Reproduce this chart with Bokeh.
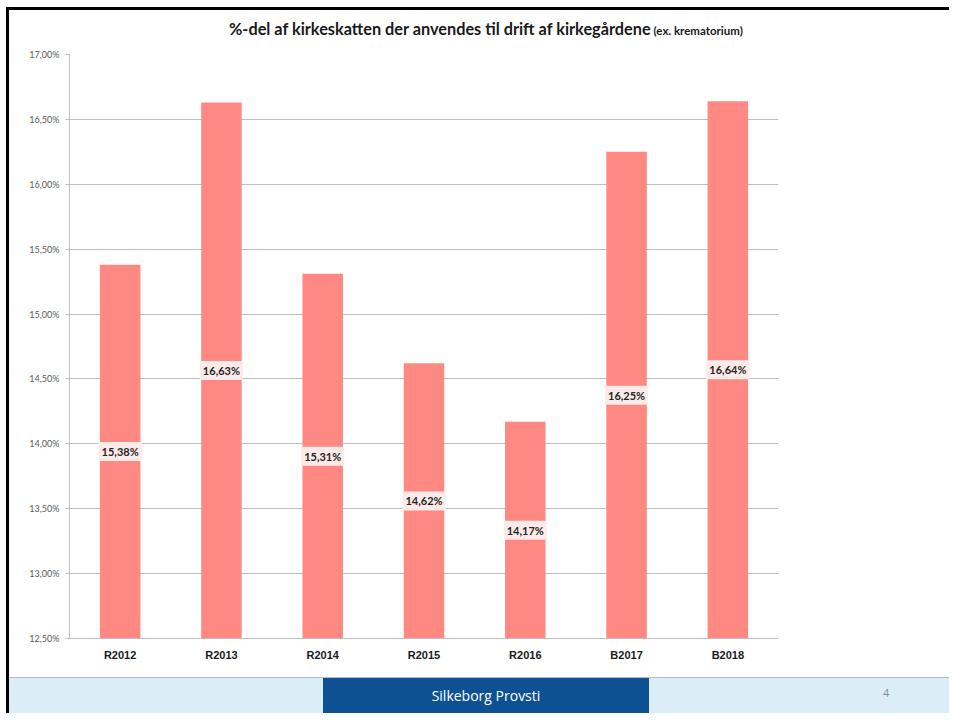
from bokeh.plotting import figure
from bokeh.models import ColumnDataSource, FactorRange, Range1d, FixedTicker, Div
from bokeh.layouts import column, row
from bokeh.core.properties import value
from bokeh.embed import file_html
from bokeh.resources import INLINE

categories = ["R2012", "R2013", "R2014", "R2015", "R2016", "B2017", "B2018"]
shares = [15.38, 16.63, 15.31, 14.62, 14.17, 16.25, 16.64]
y_ticks = [12.5, 13.0, 13.5, 14.0, 14.5, 15.0, 15.5, 16.0, 16.5, 17.0]
y_tick_labels = ["12,50%", "13,00%", "13,50%", "14,00%", "14,50%", "15,00%",
                 "15,50%", "16,00%", "16,50%", "17,00%"]
title_main = "%-del af kirkeskatten der anvendes til drift af kirkegårdene"
title_sub = "(ex. krematorium)"
footer_text = "Silkeborg Provsti"
page_number = "4"

y_start, y_end = 12.5, 17.0

labels = [f"{v:.2f}".replace(".", ",") + "%" for v in shares]
label_y = [(y_start + v) / 2 for v in shares]
src = ColumnDataSource(dict(cat=categories, val=shares, lab=labels, ly=label_y))

W = 940
H_TITLE, H_FIG, H_FOOT = 33, 637, 36

title_div = Div(
    text=(f'<div style="position:relative;width:{W}px;height:{H_TITLE}px;background:white;overflow:hidden;">'
          f'<div style="position:absolute;left:0px;top:0px;width:{W}px;height:3px;'
          f'background:black;"></div>'
          f'<div style="position:absolute;left:220px;top:10px;white-space:nowrap;'
          f'font-family:Lato;font-weight:bold;color:#1a1a1a;">'
          f'<span style="font-size:16.3px;">{title_main}</span> '
          f'<span style="font-size:11.5px;">{title_sub}</span></div></div>'),
    width=W, height=H_TITLE, margin=0, styles={"overflow": "hidden"})

p = figure(x_range=FactorRange(*categories, range_padding=0),
           y_range=Range1d(y_start, y_end),
           width=W, height=H_FIG, output_backend="svg", toolbar_location=None,
           min_border_left=60, min_border_right=W - 769, min_border_top=14,
           min_border_bottom=39)
p.outline_line_color = None
p.background_fill_color = "white"
p.border_fill_color = "white"

p.vbar(x="cat", top="val", bottom=y_start, width=0.4, source=src,
       fill_color="#fe8882", line_color=None)

p.text(x="cat", y="ly", text="lab", source=src, text_align="center",
       text_baseline="middle", text_font=value("Lato"), text_font_style="bold",
       text_font_size="11px", text_color="#262626",
       background_fill_color="#fdebe9", padding=3)

p.yaxis.ticker = FixedTicker(ticks=y_ticks)
p.yaxis.major_label_overrides = {t: l for t, l in zip(y_ticks, y_tick_labels)}
p.yaxis.major_label_text_font = "Lato"
p.yaxis.major_label_text_font_size = "9px"
p.yaxis.major_label_text_color = "#595959"
p.yaxis.axis_line_color = "#bfbfbf"
p.yaxis.major_tick_line_color = "#bfbfbf"
p.yaxis.major_tick_in = 0
p.yaxis.major_tick_out = 4
p.yaxis.minor_tick_line_color = None
p.yaxis.major_label_standoff = 6

p.xaxis.axis_line_color = "#bfbfbf"
p.xaxis.major_tick_line_color = None
p.xaxis.major_label_text_font = "Liberation Sans"
p.xaxis.major_label_text_font_style = "bold"
p.xaxis.major_label_text_font_size = "11px"
p.xaxis.major_label_text_color = "#1a1a1a"
p.xaxis.major_label_standoff = 4

p.xgrid.grid_line_color = None
p.ygrid.grid_line_color = "#bdbdbd"
p.ygrid.grid_line_width = 1

footer = Div(
    text=(f'<div style="position:relative;width:{W}px;height:{H_FOOT}px;background:#dbeef7;'
          f'border-top:1px solid #b4bcc4;box-sizing:border-box;overflow:hidden;">'
          f'<div style="position:absolute;left:314px;top:0px;width:326px;height:{H_FOOT}px;'
          f'background:#0d5193;color:white;font-family:\'Open Sans\';font-size:14px;'
          f'line-height:{H_FOOT}px;text-align:center;">{footer_text}</div>'
          f'<div style="position:absolute;left:874px;top:7px;color:#8c8c8c;'
          f'font-family:\'Open Sans\';font-size:11px;">{page_number}</div></div>'),
    width=W, height=H_FOOT, margin=0, styles={"overflow": "hidden"})

H_ALL = H_TITLE + H_FIG + H_FOOT
left_bar = Div(text=f'<div style="width:3px;height:{H_ALL}px;background:black;"></div>',
               width=3, height=H_ALL, margin=0, styles={"overflow": "hidden"})

content = column(title_div, p, footer, spacing=0, margin=0)
layout = row(left_bar, content, spacing=0, margin=(7, 0, 0, 6),
             styles={"overflow": "hidden"})

open("out.html", "w").write(file_html(layout, INLINE))
